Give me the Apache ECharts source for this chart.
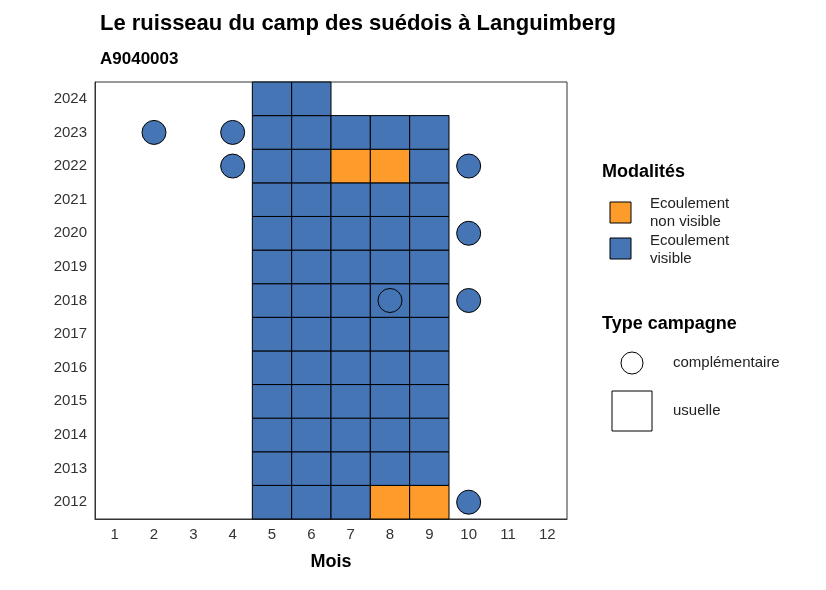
<!DOCTYPE html><html><head><meta charset="utf-8"><script src="https://cdn.jsdelivr.net/npm/echarts@6/dist/echarts.min.js"></script></head><body style="margin:0"><div id="c" style="width:826px;height:590px"></div><script>
const months=['1','2','3','4','5','6','7','8','9','10','11','12'];
const years=['2012','2013','2014','2015','2016','2017','2018','2019','2020','2021','2022','2023','2024'];
// usual campaign tiles: [month, year, modality]
const tiles=[];
for(let y=2012;y<=2023;y++)for(let m=5;m<=9;m++)tiles.push([String(m),String(y),'visible']);
tiles.push(['5','2024','visible'],['6','2024','visible']);
const nonVisible=[['7','2022'],['8','2022'],['8','2012'],['9','2012']];
nonVisible.forEach(n=>{const t=tiles.find(t=>t[0]===n[0]&&t[1]===n[1]);t[2]='nonvisible';});
const extra=[['2','2023'],['4','2023'],['4','2022'],['10','2022'],['10','2020'],['8','2018'],['10','2018'],['10','2012']];
const col={visible:'#4575b4',nonvisible:'#fd9b2b'};
const c=echarts.init(document.getElementById('c'));
const ax={color:'#333',fontSize:15,fontFamily:'Liberation Sans'};
c.setOption({
 animation:false,
 title:[{text:'Le ruisseau du camp des suédois à Languimberg',left:95,top:8,textStyle:{fontSize:22,fontWeight:'bold',color:'#000',fontFamily:'Liberation Sans'}},
 {text:'A9040003',left:95,top:46,textStyle:{fontSize:17,fontWeight:'bold',color:'#000',fontFamily:'Liberation Sans'}}],
 grid:{left:95,right:259,top:82,bottom:71,show:true,borderColor:'#333',borderWidth:1},
 xAxis:{type:'category',data:months,name:'Mois',nameLocation:'middle',nameGap:34,nameTextStyle:{fontSize:18,fontWeight:'bold',color:'#000',fontFamily:'Liberation Sans'},axisLine:{lineStyle:{color:'#333'}},axisTick:{alignWithLabel:true,lineStyle:{color:'#333'}},axisLabel:ax,splitLine:{show:false}},
 yAxis:{type:'category',data:years,axisLine:{lineStyle:{color:'#333'}},axisTick:{alignWithLabel:true,lineStyle:{color:'#333'}},axisLabel:ax,splitLine:{show:false}},
 series:[
 {type:'custom',data:tiles,encode:{x:0,y:1},z:2,renderItem:(p,api)=>{const pt=api.coord([api.value(0),api.value(1)]);const s=api.size([1,1]);const d=tiles[p.dataIndex];
  return {type:'rect',shape:{x:pt[0]-s[0]/2,y:pt[1]-s[1]/2,width:s[0],height:s[1]},style:{fill:col[d[2]],stroke:'#000',lineWidth:1}};}},
 {type:'scatter',data:extra,symbolSize:24,z:3,itemStyle:{color:'#4575b4',borderColor:'#000',borderWidth:1,opacity:1}}
 ],
 graphic:[
 {type:'text',left:602,top:163,style:{text:'Modalités',fontSize:18,fontWeight:'bold',fill:'#000',fontFamily:'Liberation Sans'}},
 {type:'rect',shape:{x:610,y:202,width:21,height:21},style:{fill:'#fd9b2b',stroke:'#000'}},
 {type:'text',left:650,top:195,style:{text:'Ecoulement\nnon visible',fontSize:15,lineHeight:18,fill:'#222',fontFamily:'Liberation Sans'}},
 {type:'rect',shape:{x:610,y:238,width:21,height:21},style:{fill:'#4575b4',stroke:'#000'}},
 {type:'text',left:650,top:232,style:{text:'Ecoulement\nvisible',fontSize:15,lineHeight:18,fill:'#222',fontFamily:'Liberation Sans'}},
 {type:'text',left:602,top:315,style:{text:'Type campagne',fontSize:18,fontWeight:'bold',fill:'#000',fontFamily:'Liberation Sans'}},
 {type:'circle',shape:{cx:632,cy:363,r:11},style:{fill:'#fff',stroke:'#000'}},
 {type:'text',left:673,top:355,style:{text:'complémentaire',fontSize:15,fill:'#222',fontFamily:'Liberation Sans'}},
 {type:'rect',shape:{x:612,y:391,width:40,height:40},style:{fill:'#fff',stroke:'#000'}},
 {type:'text',left:673,top:403,style:{text:'usuelle',fontSize:15,fill:'#222',fontFamily:'Liberation Sans'}}
 ]
});
</script></body></html>
